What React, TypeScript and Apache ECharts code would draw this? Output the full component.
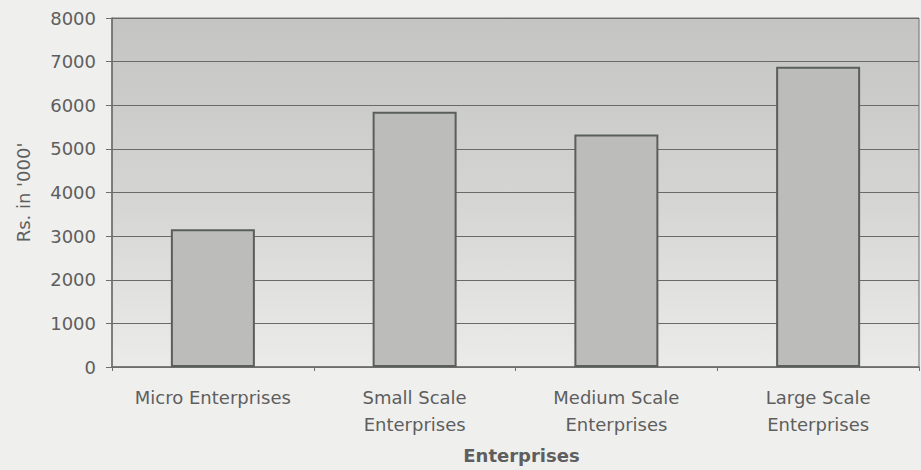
import React, { useEffect, useRef } from "react";
import * as echarts from "echarts";

const categories = [
  "Micro Enterprises",
  "Small Scale\nEnterprises",
  "Medium Scale\nEnterprises",
  "Large Scale\nEnterprises",
];
const values = [3160, 5850, 5330, 6880];
const yTicks = { min: 0, max: 8000, interval: 1000 };
const xAxisTitle = "Enterprises";
const yAxisTitle = "Rs. in '000'";

const FONT = "'DejaVu Sans', 'Liberation Sans', Arial, sans-serif";
const TEXT = "#5e5e5e";

export default function App() {
  const ref = useRef<HTMLDivElement>(null);
  useEffect(() => {
    document.body.style.margin = "0";
    const chart = echarts.init(ref.current!, null, { renderer: "svg" });
    chart.setOption({
      animation: false,
      backgroundColor: "#efefed",
      grid: {
        left: 112,
        right: 2,
        top: 18,
        bottom: 103,
        outerBoundsMode: "none",
        containLabel: false,
        show: true,
        borderColor: "#6e6e6e",
        borderWidth: 1,
        backgroundColor: new echarts.graphic.LinearGradient(0, 0, 0, 1, [
          { offset: 0, color: "#c4c4c2" },
          { offset: 0.5, color: "#d4d4d2" },
          { offset: 1, color: "#ebebe9" },
        ]),
      },
      xAxis: {
        type: "category",
        data: categories,
        name: xAxisTitle,
        nameLocation: "middle",
        nameGap: 79,
        nameTextStyle: {
          fontFamily: FONT,
          fontSize: 18,
          fontWeight: "bold",
          color: TEXT,
          padding: [0, 0, 0, 12],
        },
        axisLine: { show: true, lineStyle: { color: "#6e6e6e", width: 1.5 } },
        axisTick: { show: true, length: 4, lineStyle: { color: "#6e6e6e" } },
        axisLabel: {
          fontFamily: FONT,
          fontSize: 18,
          color: TEXT,
          margin: 17,
          lineHeight: 27,
          interval: 0,
        },
      },
      yAxis: {
        type: "value",
        min: yTicks.min,
        max: yTicks.max,
        interval: yTicks.interval,
        name: yAxisTitle,
        nameLocation: "middle",
        nameRotate: 90,
        nameGap: 80,
        nameTextStyle: { fontFamily: FONT, fontSize: 18, color: TEXT },
        axisLine: { show: true, lineStyle: { color: "#6e6e6e", width: 1.5 } },
        axisTick: { show: true, length: 6, lineStyle: { color: "#6e6e6e" } },
        axisLabel: {
          fontFamily: FONT,
          fontSize: 18,
          color: TEXT,
          margin: 16,
          formatter: (v: number) => String(v),
        },
        splitLine: { show: true, lineStyle: { color: "#6a6a6a", width: 1.2 } },
      },
      series: [
        {
          type: "bar",
          data: values,
          barWidth: 84,
          itemStyle: {
            color: "#bcbcba",
            borderColor: "#5a5f5c",
            borderWidth: 2,
          },
        },
      ],
    });
    return () => chart.dispose();
  }, []);
  return <div ref={ref} style={{ width: 921, height: 470 }} />;
}
